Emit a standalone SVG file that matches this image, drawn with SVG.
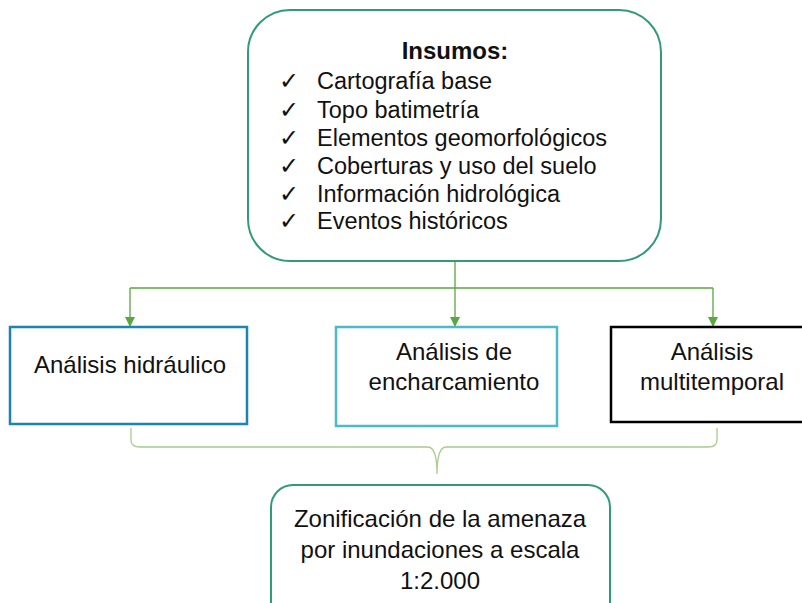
<svg xmlns="http://www.w3.org/2000/svg" width="802" height="603" viewBox="0 0 802 603">
<style>
text{font-family:"Liberation Sans",Arial,sans-serif;fill:#111;}
.t{font-size:23.5px;}
.b{font-size:24px;text-anchor:middle;}
.conn{stroke:#5aa640;stroke-width:1.3;fill:none;}
.brace{stroke:#a8cc8c;stroke-width:1.3;fill:none;}
</style>
<defs>
<marker id="ah" viewBox="0 0 10 10" refX="9" refY="5" markerWidth="10" markerHeight="10" markerUnits="userSpaceOnUse" orient="auto">
<path d="M0,0 L10,5 L0,10 z" fill="#5aa640"/>
</marker>
</defs>
<rect width="802" height="603" fill="#fff"/>
<g id="connectors">
<path class="conn" d="M455,262 V288 M130,288 H713"/>
<path class="conn" d="M130,288 V326" marker-end="url(#ah)"/>
<path class="conn" d="M455,288 V326" marker-end="url(#ah)"/>
<path class="conn" d="M713,288 V326" marker-end="url(#ah)"/>
<path class="brace" d="M131,428 V440 Q131,447 140,447 H428 Q437,447 437,474 Q437,447 446,447 H708 Q717,447 717,440 V428"/>
</g>
<g id="insumos">
<rect x="248" y="10" width="413" height="251" rx="42" fill="#fff" stroke="#2f9c76" stroke-width="2"/>
<text x="455" y="59" style="font-size:24px;font-weight:bold;text-anchor:middle">Insumos:</text>
<text class="t" x="279" y="89">✓</text><text class="t" x="317" y="89">Cartografía base</text>
<text class="t" x="279" y="118">✓</text><text class="t" x="317" y="118">Topo batimetría</text>
<text class="t" x="279" y="146">✓</text><text class="t" x="317" y="146">Elementos geomorfológicos</text>
<text class="t" x="279" y="174">✓</text><text class="t" x="317" y="174">Coberturas y uso del suelo</text>
<text class="t" x="279" y="202">✓</text><text class="t" x="317" y="202">Información hidrológica</text>
<text class="t" x="279" y="229">✓</text><text class="t" x="317" y="229">Eventos históricos</text>
</g>
<g id="hidraulico">
<rect x="10" y="327" width="237" height="97" fill="#fff" stroke="#1b84b0" stroke-width="2.5"/>
<text class="b" x="130" y="373">Análisis hidráulico</text>
</g>
<g id="encharcamiento">
<rect x="336" y="327" width="221" height="99" fill="#fff" stroke="#4db9cc" stroke-width="2.5"/>
<text class="b" x="454" y="360">Análisis de</text>
<text class="b" x="454" y="390">encharcamiento</text>
</g>
<g id="multitemporal">
<rect x="611" y="327" width="200" height="95" fill="#fff" stroke="#000" stroke-width="2.5"/>
<text class="b" x="712" y="360">Análisis</text>
<text class="b" x="712" y="390">multitemporal</text>
</g>
<g id="zonificacion">
<rect x="271" y="485" width="339" height="140" rx="22" fill="#fff" stroke="#2f9c76" stroke-width="2"/>
<text class="b" x="440" y="527">Zonificación de la amenaza</text>
<text class="b" x="440" y="558">por inundaciones a escala</text>
<text class="b" x="440" y="589">1:2.000</text>
</g>
</svg>
